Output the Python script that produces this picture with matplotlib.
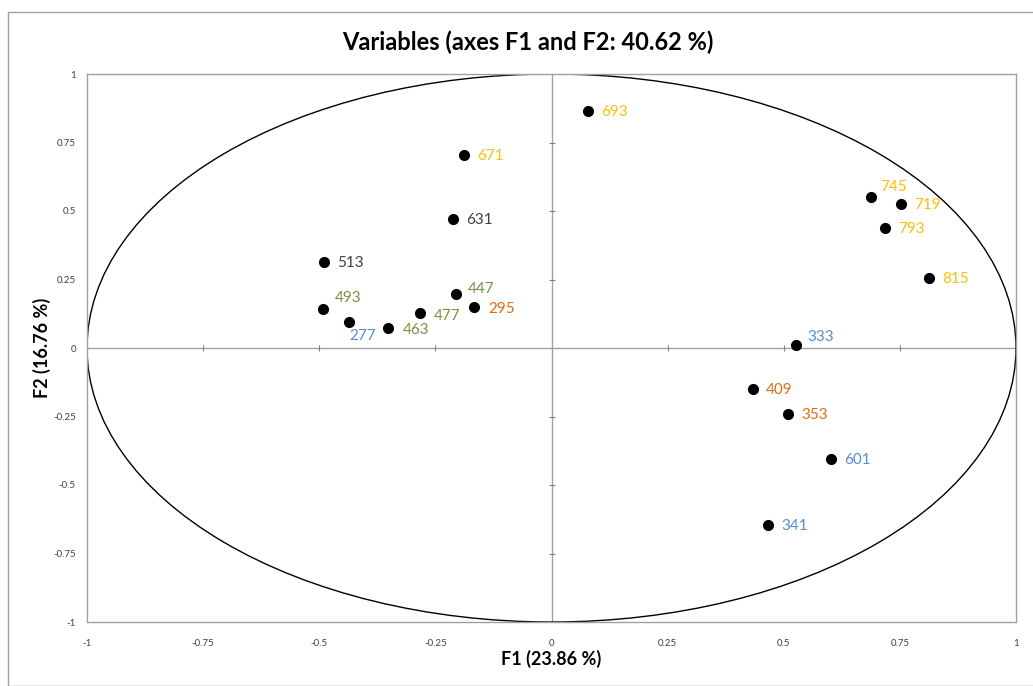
import matplotlib
matplotlib.use("Agg")
import matplotlib.pyplot as plt
from matplotlib.patches import Circle, Rectangle
import numpy as np

labels = ["693", "671", "631", "513", "493", "277", "463", "477", "447", "295",
          "745", "719", "793", "815", "333", "409", "353", "601", "341"]
f1 = [0.078, -0.188, -0.211, -0.489, -0.491, -0.435, -0.351, -0.284, -0.205, -0.166,
      0.688, 0.752, 0.718, 0.813, 0.526, 0.433, 0.509, 0.601, 0.466]
f2 = [0.865, 0.704, 0.471, 0.314, 0.142, 0.095, 0.073, 0.128, 0.197, 0.150,
      0.551, 0.526, 0.438, 0.255, 0.011, -0.150, -0.241, -0.405, -0.646]
groups = ["Y", "Y", "K", "K", "G", "B", "G", "G", "G", "O",
          "Y", "Y", "Y", "Y", "B", "O", "O", "B", "B"]
ticks = [-1, -0.75, -0.5, -0.25, 0, 0.25, 0.5, 0.75, 1]
tick_labels = ["-1", "-0.75", "-0.5", "-0.25", "0", "0.25", "0.5", "0.75", "1"]

colors = {"Y": "#FFC000", "K": "#404040", "G": "#77933C", "B": "#558ED5", "O": "#E46C0A"}
# label offsets in pixels (default right of point)
offsets = {"277": (0, -14), "745": (9, 10), "333": (12, 8), "447": (12, 5),
           "493": (11, 11), "477": (14, -3), "463": (14, -2), "295": (14, -2)}

plt.rcParams['font.family'] = ['Lato', 'DejaVu Sans']
W, H = 1033, 686
fig = plt.figure(figsize=(W / 100, H / 100), dpi=100)
fig.patches.append(Rectangle((8 / W, 0), 1.2, 1 - 12 / H, transform=fig.transFigure,
                             fill=False, edgecolor="#A0A0A0", linewidth=1.0))
ax = fig.add_axes([87 / W, 1 - 622 / H, (1016 - 87) / W, (622 - 74) / H])
ax.set_xlim(-1, 1)
ax.set_ylim(-1, 1)
for s in ax.spines.values():
    s.set_color("#A0A0A0")
    s.set_linewidth(1.0)
ax.set_xticks(ticks)
ax.set_xticklabels(tick_labels)
ax.set_yticks(ticks)
ax.set_yticklabels(tick_labels)
ax.tick_params(length=0, labelsize=7, colors="#404040", pad=8)
ax.tick_params(axis='x', pad=12)

ax.axhline(0, color="#A0A0A0", lw=1.0, zorder=1)
ax.axvline(0, color="#A0A0A0", lw=1.0, zorder=1)
tk = [t for t in ticks if t not in (-1, 0, 1)]
ax.plot(tk, [0] * len(tk), linestyle="none", marker="|", markersize=4, color="#808080", mew=0.8, zorder=1)
ax.plot([0] * len(tk), tk, linestyle="none", marker="_", markersize=4, color="#808080", mew=0.8, zorder=1)

ax.add_patch(Circle((0, 0), 1, fill=False, edgecolor="black", linewidth=1.0, zorder=2))
ax.plot(f1, f2, linestyle="none", marker="o", markersize=7, color="black", zorder=3)

for lab, x, y, g in zip(labels, f1, f2, groups):
    dx, dy = offsets.get(lab, (13, -1))
    ax.annotate(lab, (x, y), xytext=(dx, dy), textcoords="offset pixels",
                ha="left", va="center", fontsize=11, color=colors[g])

fig.text(528 / W, 1 - 42 / H, "Variables (axes F1 and F2: 40.62 %)", ha="center", va="center",
         fontsize=17, fontweight="bold", color="black")
fig.text(551 / W, 1 - 659 / H, "F1 (23.86 %)", ha="center", va="center",
         fontsize=13, fontweight="bold")
fig.text(42 / W, 1 - 348 / H, "F2 (16.76 %)", ha="center", va="center", rotation=90,
         fontsize=13, fontweight="bold")

fig.savefig("out.png", dpi=100)
